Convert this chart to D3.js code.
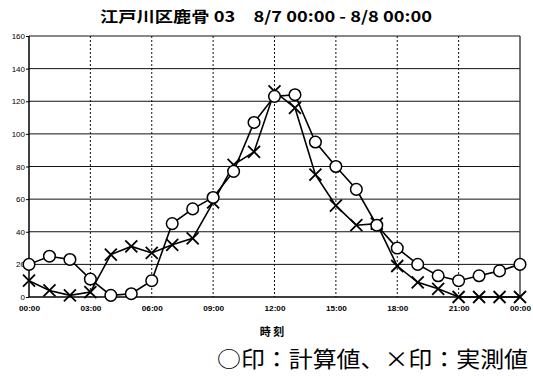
<!DOCTYPE html>
<html><head><meta charset="utf-8">
<script src="https://cdn.jsdelivr.net/npm/d3@7/dist/d3.min.js"></script>
<style>body{margin:0;background:#fff}svg{display:block}</style>
</head><body>
<script>
const hours = d3.range(0, 25);
const computed = [20,25,23,11,1,2,10,45,54,61,77,107,123,124,95,80,66,44,30,20,13,10,13,16,20];
const measured = [10,4,1,3,26,31,27,32,36,58,81,89,126,116,75,56,44,45,19,9,5,0,0,0,0];
const yTicks = [0,20,40,60,80,100,120,140,160];
const xTickHours = [0,3,6,9,12,15,18,21,24];
const xTickLabels = ["00:00","03:00","06:00","09:00","12:00","15:00","18:00","21:00","00:00"];
const title = "江戸川区鹿骨 03　8/7 00:00 - 8/8 00:00";
const xTitle = "時 刻";
const note = "○印：計算値、×印：実測値";

const W = 533, H = 376;
const m = {l:29, r:520, t:36, b:297};
const svg = d3.select("body").append("svg").attr("width", W).attr("height", H);
const x = d3.scaleLinear().domain([0,24]).range([m.l, m.r]);
const y = d3.scaleLinear().domain([0,160]).range([m.b, m.t]);

// horizontal grid
svg.append("g").selectAll("line").data(yTicks.filter(d=>d>0)).join("line")
  .attr("x1", m.l).attr("x2", m.r).attr("y1", d=>y(d)).attr("y2", d=>y(d))
  .attr("stroke", "#111").attr("stroke-width", 1);
// vertical dotted grid
svg.append("g").selectAll("line").data(xTickHours.filter(d=>d>0 && d<24)).join("line")
  .attr("x1", d=>x(d)).attr("x2", d=>x(d)).attr("y1", m.t).attr("y2", m.b)
  .attr("stroke", "#111").attr("stroke-width", 1).attr("stroke-dasharray", "2,2");
// frame
svg.append("line").attr("x1", m.l).attr("x2", m.l).attr("y1", m.t).attr("y2", m.b).attr("stroke","#000").attr("stroke-width",1.5);
svg.append("line").attr("x1", m.l).attr("x2", m.r).attr("y1", m.b).attr("y2", m.b).attr("stroke","#000").attr("stroke-width",1.5);
svg.append("line").attr("x1", m.r).attr("x2", m.r).attr("y1", m.t).attr("y2", m.b).attr("stroke","#444").attr("stroke-width",1.5);

// axes
const yAxis = d3.axisLeft(y).tickValues(yTicks).tickSize(3).tickPadding(1);
const gy = svg.append("g").attr("transform", `translate(${m.l},0)`).call(yAxis);
gy.select(".domain").remove();
gy.selectAll("text").attr("font-family","'Liberation Sans Narrow','Liberation Sans',Arial,sans-serif").attr("font-size","8px").attr("fill","#000");

const xAxis = d3.axisBottom(x).tickValues(xTickHours).tickFormat((d,i)=>xTickLabels[i]).tickSize(0).tickPadding(9);
const gx = svg.append("g").attr("transform", `translate(0,${m.b})`).call(xAxis);
gx.select(".domain").remove();
gx.selectAll("text").attr("font-family","'Liberation Sans Narrow','Liberation Sans',Arial,sans-serif").attr("font-size","7px").attr("font-weight","bold").attr("fill","#000").attr("textLength", 21).attr("lengthAdjust","spacingAndGlyphs");

const line = d3.line().x((d,i)=>x(hours[i])).y(d=>y(d));
svg.append("path").datum(computed).attr("d", line).attr("fill","none").attr("stroke","#000").attr("stroke-width",1.6);
svg.append("path").datum(measured).attr("d", line).attr("fill","none").attr("stroke","#000").attr("stroke-width",1.6);

// X markers
const s = 6;
svg.append("g").selectAll("path").data(measured).join("path")
  .attr("d", (d,i)=>{const cx=x(hours[i]), cy=y(d); return `M${cx-s},${cy-s}L${cx+s},${cy+s}M${cx-s},${cy+s}L${cx+s},${cy-s}`;})
  .attr("stroke","#000").attr("stroke-width",1.8).attr("fill","none");
// circles
svg.append("g").selectAll("circle").data(computed).join("circle")
  .attr("cx",(d,i)=>x(hours[i])).attr("cy", d=>y(d)).attr("r", 5.8)
  .attr("fill","#fff").attr("stroke","#000").attr("stroke-width",1.5);

// title
svg.append("text").attr("x", 266).attr("y", 22).attr("text-anchor","middle")
  .attr("font-family","'Noto Sans CJK JP',sans-serif").attr("font-size","15px").attr("font-weight","bold")
  .attr("textLength", 332).attr("lengthAdjust","spacingAndGlyphs").text(title);
svg.append("text").attr("x", 272).attr("y", 336).attr("text-anchor","middle")
  .attr("font-family","'Noto Sans CJK JP',sans-serif").attr("font-size","11px").attr("font-weight","bold").text(xTitle);
svg.append("text").attr("x", 217).attr("y", 367)
  .attr("font-family","'Noto Sans CJK JP',sans-serif").attr("font-size","22px")
  .attr("textLength", 311).attr("lengthAdjust","spacingAndGlyphs").text(note);
</script>
</body></html>
